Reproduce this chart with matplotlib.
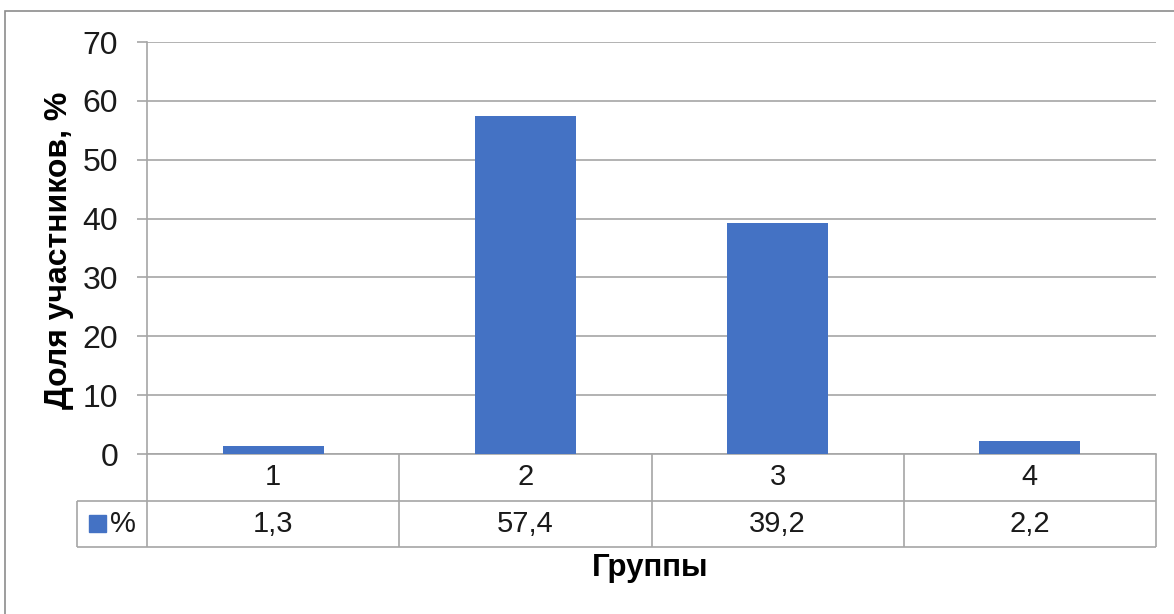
import matplotlib.pyplot as plt
from matplotlib.patches import Rectangle

plt.rcParams['font.family'] = ['Liberation Sans', 'DejaVu Sans']

groups = ['1', '2', '3', '4']
values = [1.3, 57.4, 39.2, 2.2]
value_labels = ['1,3', '57,4', '39,2', '2,2']
yticks = [0, 10, 20, 30, 40, 50, 60, 70]
series_name = '%'
xlabel = 'Группы'
ylabel = 'Доля участников, %'

bar_color = '#4472C4'
grid_color = '#A6A6A6'
W, H = 1174, 614


def px_box(x0, y0, x1, y1):
    # pixel box (top-left origin) -> figure fraction rect
    return [x0 / W, (H - y1) / H, (x1 - x0) / W, (y1 - y0) / H]


fig = plt.figure(figsize=(W / 100, H / 100), dpi=100)

# outer chart border
fig.patches.append(Rectangle((5 / W, -0.1), 1.2, (H - 11) / H + 0.1,
                             transform=fig.transFigure, fill=False,
                             edgecolor='#8C8C8C', linewidth=1.2))

ax = fig.add_axes(px_box(147, 42, 1156, 454))
x = list(range(len(groups)))
ax.bar(x, values, width=0.4, color=bar_color, zorder=3)
ax.set_xlim(-0.5, 3.5)
ax.set_ylim(0, 70)
ax.set_yticks(yticks)
ax.set_yticklabels([str(t) for t in yticks], fontsize=23, color='#1a1a1a')
ax.set_xticks([])
ax.grid(axis='y', color=grid_color, linewidth=1.2, zorder=0)
for s in ['top', 'right']:
    ax.spines[s].set_visible(False)
for s in ['left', 'bottom']:
    ax.spines[s].set_color(grid_color)
    ax.spines[s].set_linewidth(1.2)
ax.tick_params(axis='y', length=7.2, width=1.2, color=grid_color, pad=13.5)

fig.text(59 / W, 1 - 250 / H, ylabel, rotation=90, ha='center',
         va='center', fontsize=23, fontweight='bold')

# data table under the plot
unit = (1156 - 147) / 4
left = -0.5 - (147 - 77) / unit
tax = fig.add_axes(px_box(77, 454, 1156, 547))
tax.set_xlim(left, 3.5)
tax.set_ylim(0, 2)
tax.axis('off')
lw = 1.2
tax.hlines(1, left, 3.5, color=grid_color, linewidth=lw)
tax.hlines(0, left, 3.5, color=grid_color, linewidth=lw, clip_on=False)
tax.vlines([-0.5, 0.5, 1.5, 2.5, 3.5], 0, 2, color=grid_color,
           linewidth=lw, clip_on=False)
tax.vlines(left, 0, 1, color=grid_color, linewidth=lw, clip_on=False)
for i, g in enumerate(groups):
    tax.text(i, 1.5, g, ha='center', va='center', fontsize=21,
             color='#1a1a1a')
    tax.text(i, 0.5, value_labels[i], ha='center', va='center',
             fontsize=21, color='#1a1a1a')
sq = 17 / unit
tax.add_patch(Rectangle((left + 12 / unit, 0.5 - 0.18), sq, 0.36,
                        color=bar_color))
tax.text(left + 33 / unit, 0.5, series_name, ha='left', va='center',
         fontsize=21, color='#1a1a1a')

fig.text(650 / W, 1 - 568 / H, xlabel, ha='center', va='center',
         fontsize=22.5, fontweight='bold')

fig.savefig('out.png', dpi=100)
